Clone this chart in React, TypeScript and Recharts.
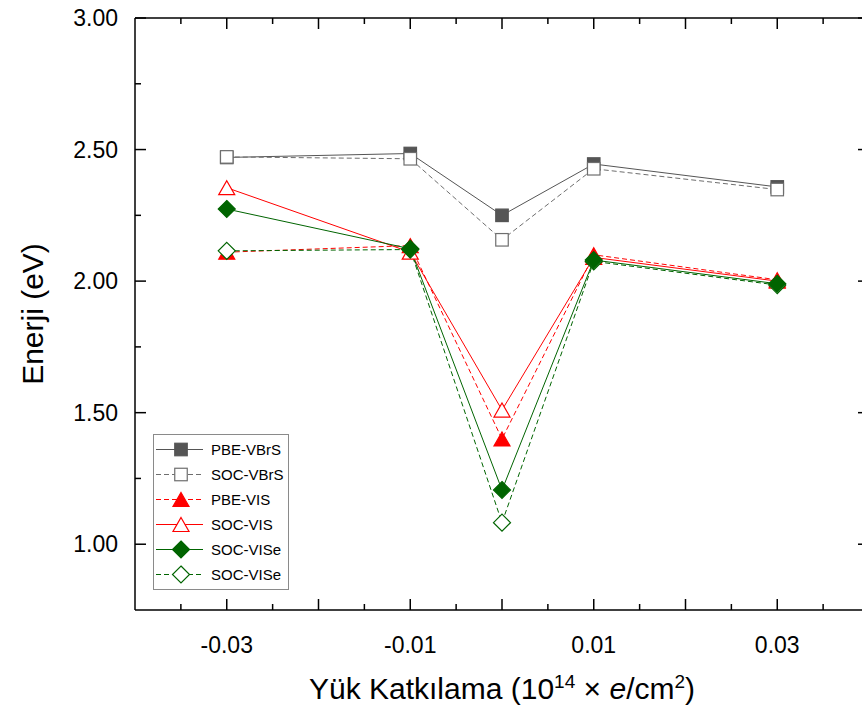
import { LineChart, Line, XAxis, YAxis, Legend, Label } from 'recharts';

// Yük katkılama değerleri (10^14 e/cm^2)
const charges = [-0.03, -0.01, 0, 0.01, 0.03];

// Enerji değerleri (eV)
const pbeVBrS = [2.47, 2.485, 2.25, 2.445, 2.358];
const socVBrS = [2.472, 2.465, 2.157, 2.427, 2.348];
const pbeVIS = [2.11, 2.135, 1.4, 2.1, 2.005];
const socVIS = [2.355, 2.11, 1.51, 2.09, 2.0];
const socVISeFilled = [2.274, 2.123, 1.206, 2.08, 1.99];
const socVISeOpen = [2.115, 2.12, 1.082, 2.075, 1.985];

const xTicks = [-0.035, -0.03, -0.025, -0.02, -0.015, -0.01, -0.005, 0, 0.005, 0.01, 0.015, 0.02, 0.025, 0.03, 0.035];
const xLabeled = [-0.03, -0.01, 0.01, 0.03];
const yTicks = [1, 1.25, 1.5, 1.75, 2, 2.25, 2.5, 2.75, 3];
const yLabeled = [1, 1.5, 2, 2.5, 3];

const rows = charges.map((x, i) => ({
  x,
  pbeVBrS: pbeVBrS[i],
  socVBrS: socVBrS[i],
  pbeVIS: pbeVIS[i],
  socVIS: socVIS[i],
  socVISeFilled: socVISeFilled[i],
  socVISeOpen: socVISeOpen[i],
}));

const FONT = '"Liberation Sans", Arial, Helvetica, sans-serif';
const GRAY = '#555555';
const RED = '#ff0000';
const GREEN = '#006400';

type Shape = 'square' | 'triangle' | 'diamond';

interface SeriesDef {
  key: string;
  name: string;
  shape: Shape;
  color: string;
  filled: boolean;
  dash?: string;
}

// draw order (open diamonds sit under the filled ones)
const seriesDefs: SeriesDef[] = [
  { key: 'pbeVBrS', name: 'PBE-VBrS', shape: 'square', color: GRAY, filled: true },
  { key: 'socVBrS', name: 'SOC-VBrS', shape: 'square', color: '#6e6e6e', filled: false, dash: '5 3' },
  { key: 'pbeVIS', name: 'PBE-VIS', shape: 'triangle', color: RED, filled: true, dash: '5 3' },
  { key: 'socVIS', name: 'SOC-VIS', shape: 'triangle', color: RED, filled: false },
  { key: 'socVISeOpen', name: 'SOC-VISe', shape: 'diamond', color: GREEN, filled: false, dash: '5 3' },
  { key: 'socVISeFilled', name: 'SOC-VISe', shape: 'diamond', color: GREEN, filled: true },
];

const legendOrder = ['pbeVBrS', 'socVBrS', 'pbeVIS', 'socVIS', 'socVISeFilled', 'socVISeOpen'];

function Marker({ cx, cy, shape, color, filled }: { cx: number; cy: number; shape: Shape; color: string; filled: boolean }) {
  const fill = filled ? color : '#ffffff';
  if (shape === 'square') {
    const s = 12.5;
    return <rect x={cx - s / 2} y={cy - s / 2} width={s} height={s} fill={fill} stroke={color} strokeWidth={1.2} />;
  }
  if (shape === 'triangle') {
    const w = 16;
    const h = 14;
    return (
      <polygon
        points={`${cx},${cy - h / 2} ${cx + w / 2},${cy + h / 2} ${cx - w / 2},${cy + h / 2}`}
        fill={fill}
        stroke={color}
        strokeWidth={1.2}
      />
    );
  }
  const r = 8.5;
  return (
    <polygon
      points={`${cx},${cy - r} ${cx + r},${cy} ${cx},${cy + r} ${cx - r},${cy}`}
      fill={fill}
      stroke={color}
      strokeWidth={1.2}
    />
  );
}

const isMajorX = (v: number) => Math.abs(Math.round(v * 200)) % 2 === 0;
const isMajorY = (v: number) => Math.abs(Math.round(v * 4)) % 2 === 0;

const BottomTick = ({ x, y, payload }: any) => {
  const v = payload.value;
  const len = isMajorX(v) ? 11 : 6;
  return (
    <g>
      <line x1={x} x2={x} y1={y} y2={y - len} stroke="#000" strokeWidth={1.5} />
      {xLabeled.includes(v) && (
        <text x={x} y={y + 43} textAnchor="middle" fontSize={23} fontFamily={FONT} fill="#000">
          {v.toFixed(2)}
        </text>
      )}
    </g>
  );
};

const TopTick = ({ x, y, payload }: any) => {
  const len = isMajorX(payload.value) ? 11 : 6;
  return <line x1={x} x2={x} y1={y} y2={y + len} stroke="#000" strokeWidth={1.5} />;
};

const LeftTick = ({ x, y, payload }: any) => {
  const v = payload.value;
  const len = isMajorY(v) ? 11 : 6;
  return (
    <g>
      <line x1={x} x2={x + len} y1={y} y2={y} stroke="#000" strokeWidth={1.5} />
      {yLabeled.includes(v) && (
        <text x={x - 17} y={y + 8} textAnchor="end" fontSize={23} fontFamily={FONT} fill="#000">
          {v.toFixed(2)}
        </text>
      )}
    </g>
  );
};

const RightTick = ({ x, y, payload }: any) => {
  const len = isMajorY(payload.value) ? 11 : 6;
  return <line x1={x} x2={x - len} y1={y} y2={y} stroke="#000" strokeWidth={1.5} />;
};

const XTitle = ({ viewBox }: any) => {
  const cx = viewBox.x + viewBox.width / 2;
  return (
    <text x={cx} y={viewBox.y + 89} textAnchor="middle" fontSize={30} fontFamily={FONT} fill="#000">
      Yük Katkılama (10
      <tspan dy={-11} fontSize={19}>14</tspan>
      <tspan dy={11}> × </tspan>
      <tspan fontStyle="italic">e</tspan>
      <tspan>/cm</tspan>
      <tspan dy={-11} fontSize={19}>2</tspan>
      <tspan dy={11}>)</tspan>
    </text>
  );
};

const YTitle = ({ viewBox }: any) => {
  const cy = viewBox.y + viewBox.height / 2;
  return (
    <text
      x={32}
      y={cy}
      transform={`rotate(-90, 32, ${cy})`}
      textAnchor="middle"
      dominantBaseline="central"
      fontSize={30}
      fontFamily={FONT}
      fill="#000"
    >
      Enerji (eV)
    </text>
  );
};

const LegendBox = () => (
  <div
    style={{
      border: '1px solid #8a8a8a',
      background: '#fff',
      padding: '2px 4px 2px 2px',
      fontFamily: FONT,
      fontSize: 15,
      color: '#000',
    }}
  >
    {legendOrder.map((k) => {
      const s = seriesDefs.find((d) => d.key === k)!;
      return (
        <div key={k} style={{ display: 'flex', alignItems: 'center', height: 25 }}>
          <svg width={48} height={25} style={{ display: 'block' }}>
            <line x1={0} x2={47} y1={12.5} y2={12.5} stroke={s.color} strokeWidth={1} strokeDasharray={s.dash} />
            <Marker cx={25} cy={12.5} shape={s.shape} color={s.color} filled={s.filled} />
          </svg>
          <span style={{ marginLeft: 7, lineHeight: '25px' }}>{s.name}</span>
        </div>
      );
    })}
  </div>
);

const axisStroke = { stroke: '#000', strokeWidth: 1.5 };

export default function App() {
  return (
    <div
      style={{
        position: 'fixed',
        left: 0,
        top: 0,
        width: 862,
        height: 716,
        overflow: 'hidden',
        background: '#fff',
      }}
    >
      <LineChart width={880} height={716} data={rows} margin={{ top: 17, right: 10, bottom: 105, left: 134 }}>
        <XAxis
          dataKey="x"
          type="number"
          domain={[-0.04, 0.04]}
          ticks={xTicks}
          interval={0}
          tickSize={0}
          tickMargin={0}
          tickLine={false}
          tick={BottomTick}
          axisLine={axisStroke}
          height={1}
          allowDataOverflow
          label={<Label content={XTitle} />}
        />
        <XAxis
          xAxisId="top"
          orientation="top"
          dataKey="x"
          type="number"
          domain={[-0.04, 0.04]}
          ticks={xTicks}
          interval={0}
          tickSize={0}
          tickMargin={0}
          tickLine={false}
          tick={TopTick}
          axisLine={axisStroke}
          height={1}
          allowDataOverflow
        />
        <YAxis
          type="number"
          domain={[0.75, 3]}
          ticks={yTicks}
          interval={0}
          tickSize={0}
          tickMargin={0}
          tickLine={false}
          tick={LeftTick}
          axisLine={axisStroke}
          width={1}
          allowDataOverflow
          label={<Label content={YTitle} />}
        />
        <YAxis
          yAxisId="right"
          orientation="right"
          type="number"
          domain={[0.75, 3]}
          ticks={yTicks}
          interval={0}
          tickSize={0}
          tickMargin={0}
          tickLine={false}
          tick={RightTick}
          axisLine={axisStroke}
          width={1}
          allowDataOverflow
        />
        {seriesDefs.map((s) => (
          <Line
            key={s.key}
            dataKey={s.key}
            name={s.name}
            type="linear"
            stroke={s.color}
            strokeWidth={1}
            strokeDasharray={s.dash}
            isAnimationActive={false}
            activeDot={false}
            dot={(p: any) => (
              <Marker
                key={`${s.key}-${p.index}`}
                cx={p.cx}
                cy={p.cy}
                shape={s.shape}
                color={s.color}
                filled={s.filled}
              />
            )}
          />
        ))}
        <Legend
          layout="vertical"
          align="center"
          verticalAlign="middle"
          content={LegendBox}
          wrapperStyle={{ left: 153, top: 434, width: 'auto' }}
        />
      </LineChart>
    </div>
  );
}
